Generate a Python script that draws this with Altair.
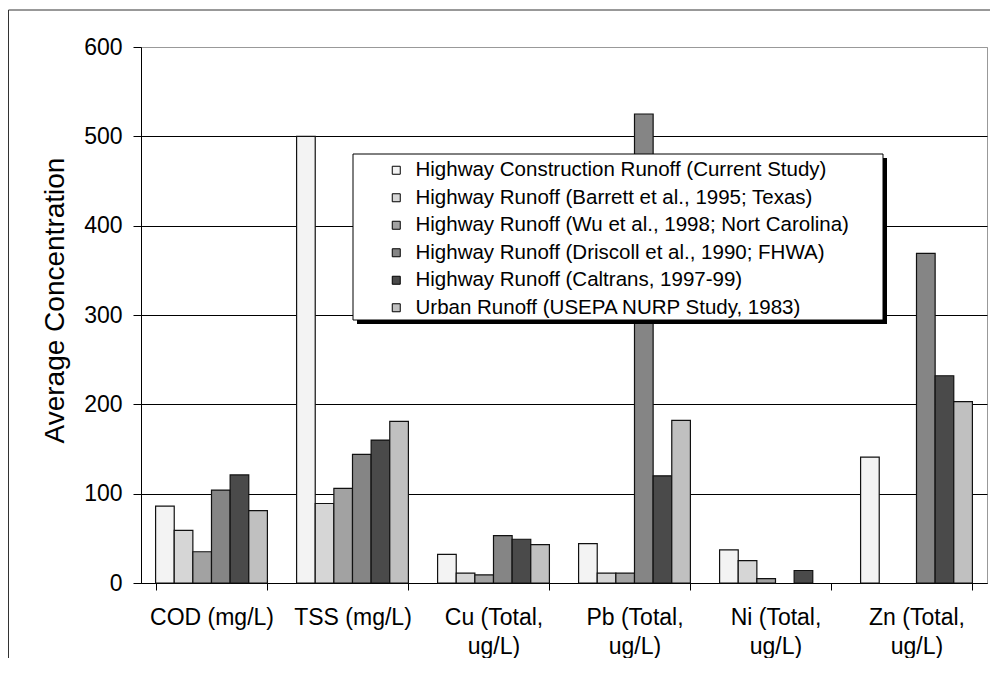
import altair as alt
import pandas as pd

categories = ["COD (mg/L)", "TSS (mg/L)", "Cu (Total, ug/L)", "Pb (Total, ug/L)",
              "Ni (Total, ug/L)", "Zn (Total, ug/L)"]
series = [
    "Highway Construction Runoff (Current Study)",
    "Highway Runoff (Barrett et al., 1995; Texas)",
    "Highway Runoff (Wu et al., 1998; Nort Carolina)",
    "Highway Runoff (Driscoll et al., 1990; FHWA)",
    "Highway Runoff (Caltrans, 1997-99)",
    "Urban Runoff (USEPA NURP Study, 1983)",
]
construction = [86, 500, 32, 44, 37, 141]
barrett = [59, 89, 11, 11, 25, None]
wu = [35, 106, 9, 11, 5, None]
driscoll = [104, 144, 53, 525, None, 369]
caltrans = [121, 160, 49, 120, 14, 232]
urban = [81, 181, 43, 182, None, 203]
fills = ["#f3f3f3", "#d6d6d6", "#a2a2a2", "#858585", "#4a4a4a", "#c0c0c0"]

rows = []
for s, vals in zip(series, [construction, barrett, wu, driscoll, caltrans, urban]):
    for c, v in zip(categories, vals):
        if v is not None:
            rows.append({"category": c, "series": s, "value": v})
df = pd.DataFrame(rows)

FONT = "Liberation Sans"

bars = alt.Chart(df).mark_bar(stroke="#111", strokeWidth=1.2).encode(
    x=alt.X("category:N", sort=categories,
            scale=alt.Scale(domain=categories, paddingInner=0.207, paddingOuter=0.1035),
            axis=alt.Axis(title=None, labelAngle=0, tickBand="extent", grid=False,
                          labelFont=FONT, labelFontSize=23, labelColor="#000",
                          labelPadding=16, labelLineHeight=29, labelLimit=0,
                          labelExpr="split(replace(datum.label, ', u', ',|u'), '|')",
                          tickSize=7, tickColor="#000", domainColor="#000")),
    xOffset=alt.XOffset("series:N", sort=series,
                        scale=alt.Scale(domain=series, paddingInner=0, paddingOuter=0)),
    y=alt.Y("value:Q", stack=False,
            scale=alt.Scale(domain=[0, 600], nice=False),
            axis=alt.Axis(title="Average Concentration", values=[0, 100, 200, 300, 400, 500, 600],
                          labelFont=FONT, labelFontSize=23, labelColor="#000", labelPadding=11,
                          tickSize=8, tickColor="#000", domainColor="#000",
                          gridColor={"condition": {"test": "datum.value === 600", "value": "#999"},
                                     "value": "#000"},
                          titleFont=FONT, titleFontSize=28, titleFontWeight="normal",
                          titleColor="#000", titleX=-86, titleY=253, titleAngle=270,
                          titleAlign="center", titleBaseline="middle")),
    fill=alt.Fill("series:N", sort=series,
                  scale=alt.Scale(domain=series, range=fills),
                  legend=alt.Legend(title=None, orient="none", legendX=245, legendY=113,
                                    symbolType="square", symbolSize=64,
                                    symbolStrokeColor="#000", symbolStrokeWidth=1,
                                    labelFont=FONT, labelFontSize=20.5, labelColor="#000",
                                    labelOffset=9, rowPadding=6.5, padding=0, labelLimit=0)),
)

one = alt.Data(values=[{}])
shadow = alt.Chart(one).mark_rect(fill="#000").encode(
    x=alt.value(216), x2=alt.value(746), y=alt.value(111), y2=alt.value(277))
box = alt.Chart(one).mark_rect(fill="#fff", stroke="#000", strokeWidth=1).encode(
    x=alt.value(212), x2=alt.value(742), y=alt.value(107), y2=alt.value(273))
frame_left = alt.Chart(one).mark_rule(stroke="#333", strokeWidth=1).encode(
    x=alt.value(-132.5), y=alt.value(-37), y2=alt.value(611))
frame_top = alt.Chart(one).mark_rule(stroke="#333", strokeWidth=1).encode(
    x=alt.value(-132.5), x2=alt.value(849), y=alt.value(-37))

chart = alt.layer(bars, shadow, box, frame_left, frame_top).properties(
    width=846, height=536,
    autosize=alt.AutoSizeParams(type="none"),
    padding={"left": 133, "top": 39, "right": 11, "bottom": 75},
).configure_view(stroke="#999", strokeWidth=1)

chart.save("out.html", embed_options={"renderer": "svg", "actions": False})
